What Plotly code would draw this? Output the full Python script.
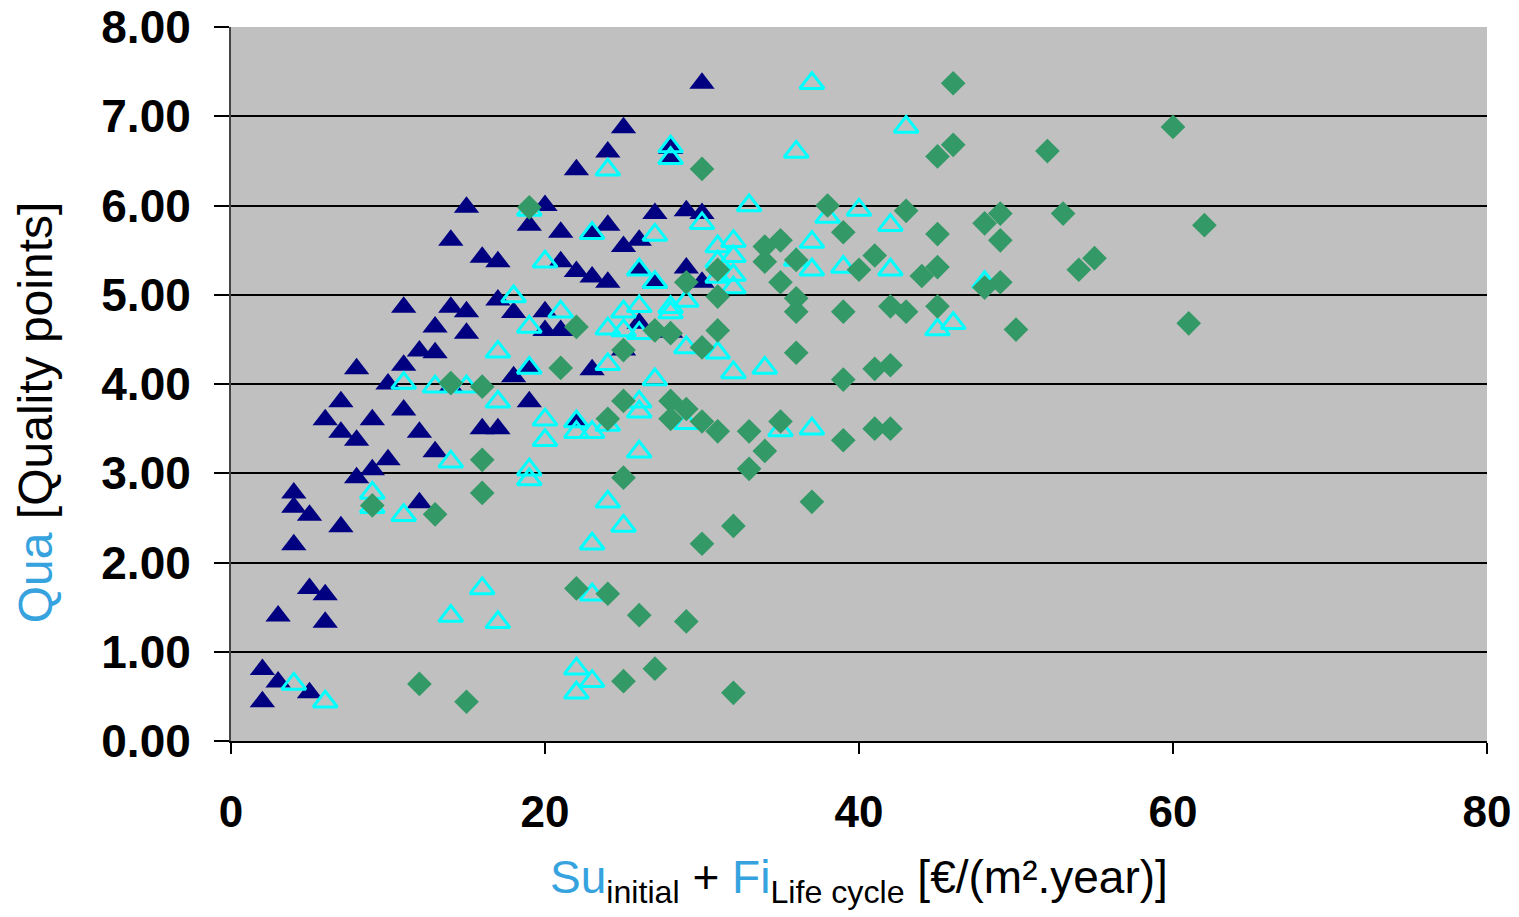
import plotly.graph_objects as go

# Series 1: dark blue filled triangles
s1_x = [2, 2, 3, 3, 5, 5, 6, 6, 4, 4, 4, 5, 7, 6, 7, 7, 8, 8, 8, 9, 9, 10, 10, 11, 11, 11,
        12, 12, 12, 13, 13, 13, 14, 14, 14, 15, 15, 15, 16, 16, 17, 17, 17, 18, 18, 19, 19, 19,
        20, 20, 20, 21, 21, 21, 22, 22, 22, 23, 23, 23, 24, 24, 24, 25, 25, 25, 26, 26, 26,
        27, 27, 28, 28, 28, 29, 29, 30, 30, 30]
s1_y = [0.80, 0.44, 0.66, 1.40, 0.54, 1.71, 1.64, 1.33, 2.78, 2.62, 2.20, 2.53, 2.40, 3.60, 3.80, 3.46,
        3.37, 2.95, 4.17, 3.60, 3.04, 3.15, 4.00, 4.86, 4.21, 3.71, 4.37, 3.46, 2.67, 4.64, 4.35, 3.24,
        5.61, 4.86, 3.97, 5.98, 4.81, 4.57, 5.42, 3.50, 5.37, 4.94, 3.50, 4.80, 4.08, 5.78, 3.80, 4.18,
        6.00, 4.81, 4.60, 5.70, 5.37, 4.60, 6.40, 5.26, 3.57, 5.70, 5.20, 4.16, 6.60, 5.78, 5.14,
        6.87, 5.54, 4.38, 5.61, 5.28, 4.68, 5.91, 5.13, 6.64, 6.53, 4.58, 5.94, 5.30, 7.37, 5.91, 5.14]

# Series 2: cyan open triangles
s2_x = [4, 6, 9, 9, 11, 11, 13, 14, 14, 15, 16, 17, 17, 17, 18, 19, 19, 19, 19, 19, 20, 20, 20, 21,
        22, 22, 22, 22, 23, 23, 23, 23, 23, 24, 24, 24, 24, 24, 25, 25, 25, 26, 26, 26, 26, 26, 26,
        27, 27, 27, 28, 28, 28, 28, 29, 29, 29, 30, 31, 31, 31, 31, 32, 32, 32, 32, 32, 33, 34, 35,
        36, 36, 37, 37, 37, 37, 38, 39, 40, 42, 42, 43, 45, 46, 48]
s2_y = [0.64, 0.44, 2.78, 2.62, 2.53, 4.01, 3.97, 3.13, 1.40, 3.97, 1.71, 1.33, 3.80, 4.36, 4.98,
        5.95, 4.64, 4.18, 3.04, 2.93, 5.37, 3.60, 3.37, 4.81, 3.58, 3.46, 0.81, 0.54, 5.69, 3.46, 2.21,
        1.64, 0.67, 6.40, 4.62, 4.22, 3.54, 2.68, 4.81, 4.60, 2.41, 5.28, 4.87, 4.57, 3.80, 3.69, 3.24,
        5.67, 5.14, 4.05, 6.66, 6.53, 4.86, 4.80, 4.93, 4.41, 3.56, 5.80, 5.54, 5.37, 5.20, 4.35, 5.60,
        5.43, 5.22, 5.08, 4.13, 6.00, 4.18, 3.48, 6.60, 5.39, 7.37, 5.59, 5.28, 3.50, 5.87, 5.31, 5.95,
        5.78, 5.28, 6.88, 4.61, 4.68, 5.14]

# Series 3: green diamonds
s3_x = [9, 12, 13, 14, 15, 16, 16, 16, 19, 21, 22, 22, 24, 24, 25, 25, 25, 25, 26, 27, 27, 28, 28,
        28, 29, 29, 29, 30, 30, 30, 30, 31, 31, 31, 31, 32, 32, 33, 33, 34, 34, 34, 35, 35, 35, 36,
        36, 36, 36, 37, 38, 39, 39, 39, 39, 40, 41, 41, 41, 42, 42, 42, 43, 43, 44, 45, 45, 45, 45,
        46, 46, 48, 48, 49, 49, 49, 50, 52, 53, 54, 55, 60, 61, 62]
s3_y = [2.64, 0.64, 2.54, 4.01, 0.44, 3.97, 3.15, 2.78, 5.98, 4.18, 4.64, 1.71, 3.61, 1.65, 4.38,
        3.81, 2.95, 0.67, 1.41, 4.60, 0.81, 4.57, 3.81, 3.61, 5.14, 3.72, 1.34, 6.41, 4.41, 3.58, 2.21,
        5.28, 4.98, 4.60, 3.47, 2.41, 0.54, 3.47, 3.05, 5.54, 5.37, 3.25, 5.61, 5.14, 3.58, 5.39, 4.96,
        4.81, 4.35, 2.68, 6.00, 5.70, 4.81, 4.05, 3.37, 5.28, 5.44, 4.17, 3.50, 4.87, 4.21, 3.50, 5.94,
        4.81, 5.21, 6.55, 5.68, 5.31, 4.87, 7.37, 6.68, 5.80, 5.08, 5.91, 5.61, 5.14, 4.61, 6.61, 5.91,
        5.28, 5.41, 6.88, 4.68, 5.78]

x_ticks = [0, 20, 40, 60, 80]
y_ticks = [0, 1, 2, 3, 4, 5, 6, 7, 8]

BLUE = "#36A3DF"
NARROW = "Liberation Sans Narrow, Liberation Sans, Arial, sans-serif"

fig = go.Figure()
fig.add_trace(go.Scatter(
    x=s1_x, y=s1_y, mode="markers", name="Series 1",
    marker=dict(symbol="triangle-up", size=22, color="#000080", line=dict(width=0)),
))
fig.add_trace(go.Scatter(
    x=s2_x, y=s2_y, mode="markers", name="Series 2",
    marker=dict(symbol="triangle-up-open", size=21, color="#00FFFF", line=dict(width=3, color="#00FFFF")),
))
fig.add_trace(go.Scatter(
    x=s3_x, y=s3_y, mode="markers", name="Series 3",
    marker=dict(symbol="diamond", size=19, color="#339966", line=dict(width=0)),
))

fig.update_layout(
    width=1519, height=917, autosize=False,
    margin=dict(l=231, r=32, t=27, b=176, autoexpand=False),
    paper_bgcolor="white", plot_bgcolor="#C0C0C0",
    showlegend=False,
    xaxis=dict(
        range=[0, 80], tickvals=x_ticks, ticktext=[str(v) for v in x_ticks],
        showgrid=False, zeroline=False, automargin=False, ticklabeloverflow="allow",
        showline=True, linecolor="black", linewidth=1.5,
        ticks="outside", ticklen=11, tickwidth=1.5, tickcolor="black",
        ticklabelstandoff=20,
        tickfont=dict(family="Liberation Sans, Arial, sans-serif", size=44, color="black", weight="bold"),
    ),
    yaxis=dict(
        range=[0, 8], tickvals=y_ticks, ticktext=[f"{v:.2f}" for v in y_ticks],
        showgrid=True, gridcolor="black", gridwidth=1.5, zeroline=False, automargin=False,
        ticklabeloverflow="allow",
        showline=True, linecolor="#444444", linewidth=2,
        ticks="outside", ticklen=15, tickwidth=1.5, tickcolor="black",
        ticklabelstandoff=14,
        tickfont=dict(family="Liberation Sans, Arial, sans-serif", size=46, color="black", weight="bold"),
    ),
    annotations=[
        dict(
            xref="paper", yref="paper", x=0.5, y=-0.195, xanchor="center", yanchor="middle",
            showarrow=False,
            text=(f"<span style='color:{BLUE}'>Su</span><sub>initial</sub> + "
                  f"<span style='color:{BLUE}'>Fi</span><sub>Life cycle</sub> [€/(m².year)]"),
            font=dict(family=NARROW, size=46, color="black"),
        ),
        dict(
            xref="paper", yref="paper", x=-0.1555, y=0.46, xanchor="center", yanchor="middle",
            showarrow=False, textangle=-90,
            text=f"<span style='color:{BLUE}'>Qua</span> [Quality points]",
            font=dict(family=NARROW, size=48, color="black"),
        ),
    ],
)

# remove the default 8px page margin so the figure fills the window exactly
fig.write_html("out.html", config={"displayModeBar": False},
               post_script="document.body.style.margin='0';")
